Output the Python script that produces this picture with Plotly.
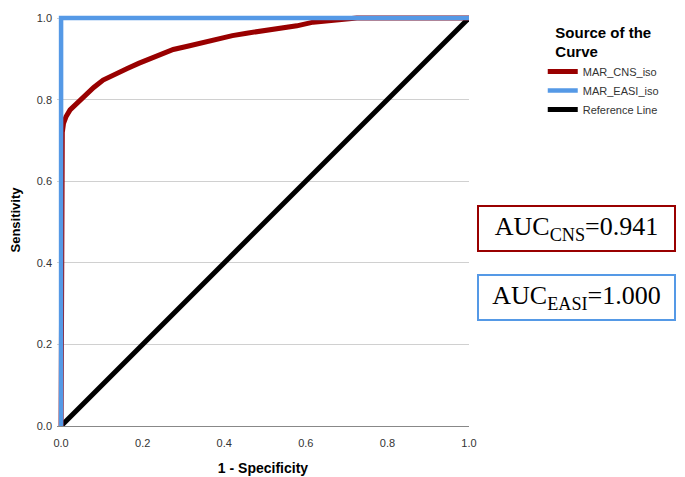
import plotly.graph_objects as go

# Data
cns_fpr = [0.0, 0.0, 0.003, 0.006, 0.012, 0.022, 0.035, 0.05, 0.063, 0.08, 0.103, 0.13, 0.161,
           0.19, 0.218, 0.245, 0.275, 0.31, 0.341, 0.39, 0.42, 0.455, 0.5, 0.537, 0.578,
           0.618, 0.66, 0.7, 0.725, 1.0]
cns_tpr = [0.0, 0.67, 0.72, 0.742, 0.758, 0.775, 0.788, 0.80, 0.814, 0.83, 0.848, 0.862, 0.876,
           0.889, 0.901, 0.911, 0.923, 0.931, 0.938, 0.952, 0.957, 0.963, 0.969, 0.975, 0.981,
           0.99, 0.995, 0.998, 1.0, 1.0]
easi_fpr = [0.0, 0.0, 1.0]
easi_tpr = [0.0, 1.0, 1.0]
ref_x = [0.0, 1.0]
ref_y = [0.0, 1.0]
ticks = [0.0, 0.2, 0.4, 0.6, 0.8, 1.0]
tick_text = ["0.0", "0.2", "0.4", "0.6", "0.8", "1.0"]
auc_labels = ["AUC<sub>CNS</sub>=0.941", "AUC<sub>EASI</sub>=1.000"]

RED = "#990000"
BLUE = "#5599e6"

fig = go.Figure()
fig.add_trace(go.Scatter(x=ref_x, y=ref_y, mode="lines", name="Reference Line",
                         line=dict(color="#000000", width=5), showlegend=False))
fig.add_trace(go.Scatter(x=cns_fpr, y=cns_tpr, mode="lines", name="MAR_CNS_iso",
                         line=dict(color=RED, width=5)))
fig.add_trace(go.Scatter(x=easi_fpr, y=easi_tpr, mode="lines", name="MAR_EASI_iso",
                         line=dict(color=BLUE, width=4.5)))
fig.add_trace(go.Scatter(x=[None], y=[None], mode="lines", name="Reference Line",
                         line=dict(color="#000000", width=5)))

axis_font = dict(family="Liberation Sans, Arial, sans-serif", size=11, color="#333333")
# page body has an 8px margin, so the figure is sized 677x469 and offset by 8px.
# Ranges are padded by 0.01 so the thick curves on the frame are not half clipped.
fig.update_layout(
    width=677, height=469,
    margin=dict(l=49, r=216, t=6, b=51, autoexpand=False),
    plot_bgcolor="white", paper_bgcolor="white",
    font=dict(family="Liberation Sans, Arial, sans-serif"),
    xaxis=dict(range=[-0.01, 1], tickvals=ticks, ticktext=tick_text, showgrid=False,
               zeroline=False, showline=True, linecolor="#888888", linewidth=1,
               tickfont=axis_font, ticks="", automargin=False, ticklabelstandoff=7,
               title=dict(text="<b>1 - Specificity</b>", font=dict(size=14, color="#000000"),
                          standoff=14)),
    yaxis=dict(range=[0, 1.01], tickvals=ticks, ticktext=tick_text, showgrid=True,
               gridcolor="#d0d0d0", gridwidth=1, zeroline=False, showline=False,
               tickfont=axis_font, ticks="", automargin=False, ticklabelstandoff=4,
               title=dict(text="<b>Sensitivity</b>", font=dict(size=13, color="#000000"),
                          standoff=19)),
    legend=dict(x=1.179, y=0.99, xanchor="left", yanchor="top",
                font=dict(size=11, color="#333333"),
                title=dict(text="<b>Source of the<br>Curve</b>", side="top center",
                           font=dict(size=15, color="#000000")),
                tracegroupgap=0, itemwidth=30, traceorder="normal"),
)

for label, color, ypos in [(auc_labels[0], RED, 0.4794), (auc_labels[1], BLUE, 0.3131)]:
    fig.add_annotation(x=1.2621, y=ypos, xref="paper", yref="paper", text=label,
                       xanchor="center", yanchor="middle", showarrow=False,
                       font=dict(family="Liberation Serif, DejaVu Serif, serif",
                                 size=26, color="#000000"),
                       bordercolor=color, borderwidth=2, borderpad=4, width=187, height=35,
                       bgcolor="white")

fig.write_html("out.html")
